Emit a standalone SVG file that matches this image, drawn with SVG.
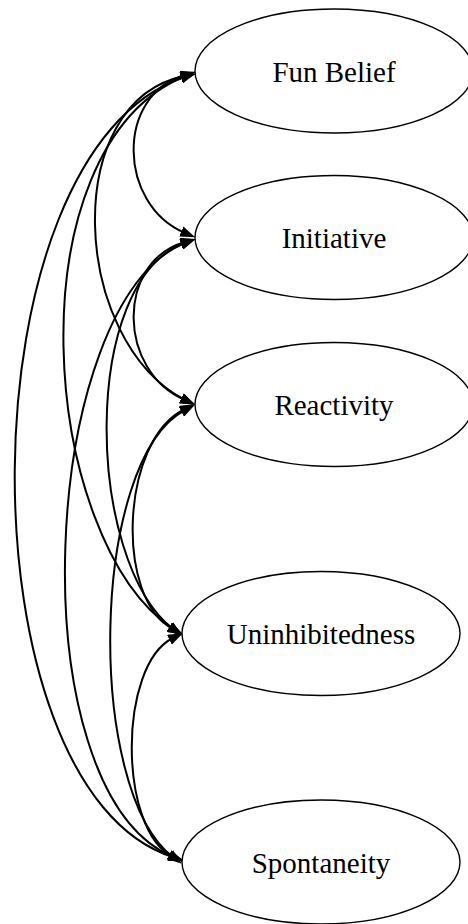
<svg xmlns="http://www.w3.org/2000/svg" width="468" height="924" viewBox="0 0 468 924">
<style>
.node ellipse{fill:#fff;stroke:#000;stroke-width:1.4}
.node text{font-family:'Liberation Serif','Times New Roman',serif;font-size:29px;text-anchor:middle;fill:#000}
.edges path{fill:none;stroke:#000;stroke-width:2;marker-start:url(#ah);marker-end:url(#ah)}
</style>
<defs>
<marker id="ah" viewBox="0 0 15 11" refX="4" refY="5.5" markerWidth="15" markerHeight="11" markerUnits="userSpaceOnUse" orient="auto-start-reverse">
<path d="M0,0 L15,5.5 L0,11 z" fill="#000"/>
</marker>
</defs>
<rect width="468" height="924" fill="#fff"/>
<g class="edges">
<path d="M185,75 C115,95 118,205 185,233"/>
<path d="M185,242 C115,262 118,372 185,400"/>
<path d="M185,409 C120,440 115,600 173,629"/>
<path d="M173,638 C118,665 118,830 173,857"/>
<path d="M185,76 C60,100 70,340 185,400"/>
<path d="M185,76 C10,150 40,540 173,629"/>
<path d="M185,77 C-40,150 -40,790 173,857"/>
<path d="M185,243 C80,280 85,560 173,629"/>
<path d="M185,243 C40,300 15,790 173,857"/>
<path d="M185,410 C90,460 85,790 173,857"/>
</g>
<g id="funbelief" class="node"><ellipse cx="334" cy="71" rx="139" ry="62"/><text x="334" y="81.7" font-family="Liberation Serif">Fun Belief</text></g>
<g id="initiative" class="node"><ellipse cx="334" cy="237.5" rx="139" ry="62"/><text x="334" y="248" font-family="Liberation Serif">Initiative</text></g>
<g id="reactivity" class="node"><ellipse cx="334" cy="404.5" rx="139" ry="62"/><text x="334" y="415" font-family="Liberation Serif">Reactivity</text></g>
<g id="uninhibitedness" class="node"><ellipse cx="321" cy="633.5" rx="139" ry="62"/><text x="321" y="643.5" font-family="Liberation Serif">Uninhibitedness</text></g>
<g id="spontaneity" class="node"><ellipse cx="321" cy="862" rx="139" ry="62"/><text x="321" y="873" font-family="Liberation Serif">Spontaneity</text></g>
</svg>
